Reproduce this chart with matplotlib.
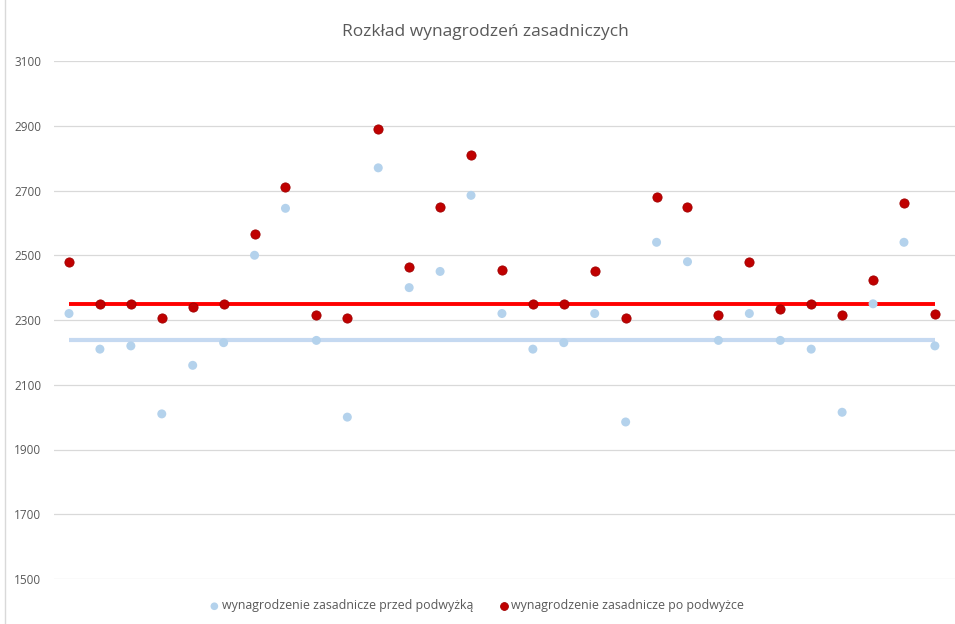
import matplotlib.pyplot as plt
from matplotlib.lines import Line2D
import numpy as np

# kolejne osoby 1..29
osoby = list(range(1, 30))
przed = [2320, 2210, 2220, 2010, 2160, 2230, 2500, 2645, 2237, 2000,
         2770, 2400, 2450, 2685, 2320, 2210, 2230, 2320, 1985, 2540,
         2480, 2237, 2320, 2237, 2210, 2015, 2350, 2540, 2220]
po = [2480, 2350, 2350, 2305, 2340, 2350, 2565, 2710, 2315, 2305,
      2890, 2465, 2650, 2810, 2455, 2350, 2350, 2450, 2305, 2680,
      2650, 2315, 2480, 2335, 2350, 2315, 2425, 2660, 2320]
y_ticks = [1500, 1700, 1900, 2100, 2300, 2500, 2700, 2900, 3100]

label_przed = 'wynagrodzenie zasadnicze przed podwyżką'
label_po = 'wynagrodzenie zasadnicze po podwyżce'
tytul = 'Rozkład wynagrodzeń zasadniczych'

plt.rcParams['font.family'] = ['Open Sans', 'DejaVu Sans']
grey = '#595959'

fig = plt.figure(figsize=(9.55, 6.24), dpi=100)
ax = fig.add_axes([54/955, 1-579/624, 1-54/955, (579-61)/624])

# mediany jako linie poziome
med_przed = np.median(przed)
med_po = np.median(po)
ax.plot([osoby[0], osoby[-1]], [med_przed]*2, color='#C5D9F1', lw=3, zorder=2,
        solid_capstyle='butt')
ax.plot([osoby[0], osoby[-1]], [med_po]*2, color='#FF0000', lw=2.8, zorder=2,
        solid_capstyle='butt')

s1 = ax.scatter(osoby, przed, s=42, color='#B4D2EC', edgecolor='none', zorder=3,
                label=label_przed)
s2 = ax.scatter(osoby, po, s=44, color='#C00000', edgecolor='#A00000', lw=0.6,
                zorder=4, label=label_po)

ax.set_ylim(1500, 3100)
ax.set_xlim(0.515, 29.65)
ax.set_yticks(y_ticks)
ax.set_xticks([])
ax.grid(axis='y', color='#D9D9D9', lw=0.9)
ax.set_axisbelow(True)
for sp in ax.spines.values():
    sp.set_visible(False)
ax.tick_params(axis='y', length=0, pad=9, labelsize=8.5, labelcolor=grey)

fig.text(0.508, 1-32/624, tytul, ha='center', va='center', fontsize=12.5, color=grey)

fig.legend(handles=[s1, s2], loc='center', bbox_to_anchor=(0.5, 1-606/624), ncol=2,
           frameon=False, fontsize=8.9, labelcolor=grey, handletextpad=0.3,
           columnspacing=2.2, markerscale=0.85, handlelength=0.6)

# ramka wykresu po lewej
fig.add_artist(Line2D([5/955, 5/955], [0, 1], color='#D9D9D9', lw=1))

fig.savefig('out.png', dpi=100)
